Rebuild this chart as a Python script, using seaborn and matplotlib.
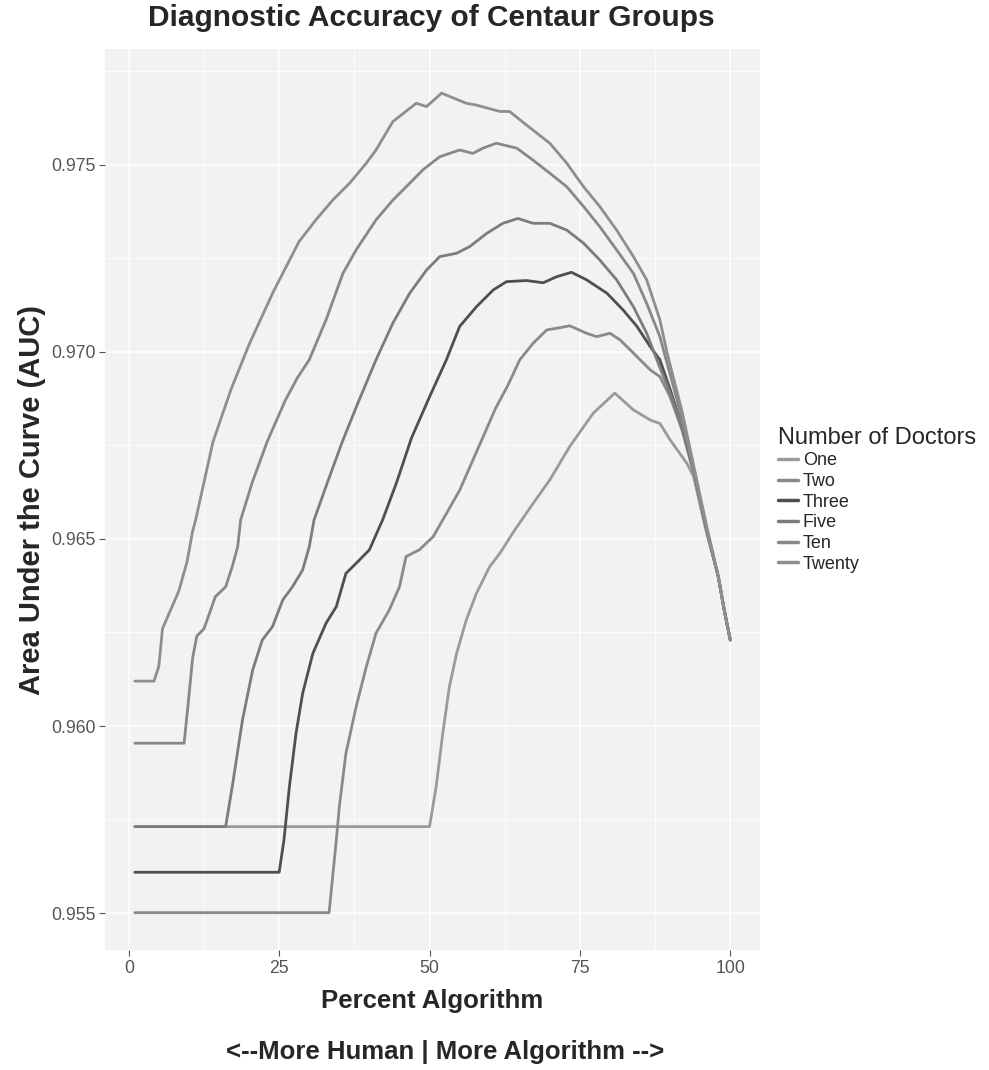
import numpy as np
import pandas as pd
import matplotlib
matplotlib.use("Agg")
import matplotlib.pyplot as plt
import seaborn as sns

# Number of doctors in each centaur group
groups = ["One", "Two", "Three", "Five", "Ten", "Twenty"]

# Percent of weight given to the algorithm, and the resulting AUC, per group
pct_one = [1, 50, 51.1, 52.2, 53.3, 54.5, 56.1, 57.8, 60, 61.7, 64, 67, 70, 73.3,
           77.2, 80.8, 83.9, 86.7, 88.3, 90, 92.8, 93.9, 96, 98, 99, 100]
auc_one = [0.95731, 0.95731, 0.95838, 0.95980, 0.96105, 0.96194, 0.96283, 0.96355,
           0.96426, 0.96462, 0.96520, 0.96590, 0.96658, 0.96747, 0.96836, 0.96890,
           0.96845, 0.96818, 0.96809, 0.96765, 0.96702, 0.96667, 0.96520, 0.96400,
           0.96310, 0.96230]

pct_two = [1, 33.3, 34.5, 35, 36.1, 37.8, 39.5, 41.1, 43.3, 45, 46.1, 48.3, 50.6,
           52.2, 55, 58, 61, 63, 65, 67.2, 69.5, 71.7, 73.3, 76.1, 77.8, 80, 81.7,
           83.9, 86.7, 88.3, 90, 92, 94, 96, 98, 99, 100]
auc_two = [0.95501, 0.95501, 0.95695, 0.95784, 0.95927, 0.96052, 0.96159, 0.96248,
           0.96310, 0.96372, 0.96453, 0.96471, 0.96506, 0.96551, 0.96630, 0.96740,
           0.96850, 0.96910, 0.96979, 0.97023, 0.97059, 0.97065, 0.97070, 0.97050,
           0.97041, 0.97050, 0.97032, 0.96997, 0.96952, 0.96934, 0.96880, 0.96790,
           0.96670, 0.96530, 0.96400, 0.96310, 0.96230]

pct_three = [1, 25, 25.8, 26.7, 27.8, 28.9, 30.6, 32.8, 34.5, 36.1, 37.8, 40, 41.7,
             42.2, 44.5, 47, 50, 52.8, 55, 57.8, 60.6, 62.8, 66.1, 68.9, 71.1, 73.6,
             76.1, 79.5, 82.2, 84.5, 86.7, 88.3, 90, 92, 94, 96, 98, 99, 100]
auc_three = [0.95609, 0.95609, 0.95695, 0.95838, 0.95980, 0.96087, 0.96194, 0.96275,
             0.96319, 0.96408, 0.96435, 0.96471, 0.96533, 0.96551, 0.96650, 0.96770,
             0.96880, 0.96979, 0.97068, 0.97121, 0.97166, 0.97188, 0.97191, 0.97185,
             0.97201, 0.97213, 0.97193, 0.97157, 0.97112, 0.97068, 0.97014, 0.96979,
             0.96900, 0.96800, 0.96680, 0.96530, 0.96400, 0.96310, 0.96230]

pct_five = [1, 16.1, 17.2, 18.9, 20.6, 22.2, 23.9, 25.6, 27.2, 28.9, 30, 30.8, 33,
            35.5, 38, 41.1, 43.9, 46.7, 49.5, 51.7, 54.5, 56.7, 59.5, 62.2, 64.7,
            67.2, 70, 72.8, 75.6, 78.3, 81.1, 83.9, 86.1, 87.8, 90, 92, 94, 96, 98,
            99, 100]
auc_five = [0.95731, 0.95731, 0.95838, 0.96016, 0.96150, 0.96230, 0.96266, 0.96337,
            0.96372, 0.96417, 0.96479, 0.96551, 0.96650, 0.96760, 0.96860, 0.96979,
            0.97077, 0.97157, 0.97219, 0.97255, 0.97264, 0.97282, 0.97317, 0.97344,
            0.97357, 0.97344, 0.97344, 0.97326, 0.97291, 0.97246, 0.97193, 0.97121,
            0.97050, 0.96979, 0.96890, 0.96800, 0.96680, 0.96530, 0.96400, 0.96310,
            0.96230]

pct_ten = [1, 9.2, 10, 10.6, 11.3, 12.5, 14.4, 16.1, 17.2, 18.1, 18.6, 20.5, 23, 26,
           28, 30, 32.8, 35.6, 37.8, 41.1, 43.9, 46.7, 48.9, 51.7, 55, 57.2, 58.9,
           61.1, 64.5, 67.2, 70, 72.8, 75.6, 78.3, 81.1, 83.9, 86.1, 88.3, 90, 92,
           94, 96, 98, 99, 100]
auc_ten = [0.95954, 0.95954, 0.96080, 0.96180, 0.96240, 0.96260, 0.96346, 0.96372,
           0.96426, 0.96479, 0.96551, 0.96650, 0.96760, 0.96870, 0.96930, 0.96979,
           0.97086, 0.97210, 0.97273, 0.97353, 0.97406, 0.97451, 0.97487, 0.97522,
           0.97540, 0.97531, 0.97545, 0.97558, 0.97545, 0.97513, 0.97478, 0.97442,
           0.97389, 0.97335, 0.97273, 0.97210, 0.97130, 0.97041, 0.96940, 0.96820,
           0.96680, 0.96530, 0.96400, 0.96310, 0.96230]

pct_twenty = [1, 4.2, 5, 5.6, 6.4, 8.3, 9.7, 10.6, 11.1, 14, 17, 20, 24, 28.3, 31.1,
              33.9, 36.7, 39.5, 41.1, 43.9, 47.8, 49.5, 52, 56.1, 57.8, 61.7, 63.3,
              66.1, 70, 72.8, 75.6, 78.3, 81.1, 83.9, 86.1, 88.3, 89.5, 92, 94, 96,
              98, 99, 100]
auc_twenty = [0.96120, 0.96120, 0.96160, 0.96260, 0.96290, 0.96360, 0.96440, 0.96520,
              0.96550, 0.96760, 0.96900, 0.97020, 0.97160, 0.97295, 0.97353, 0.97406,
              0.97451, 0.97505, 0.97540, 0.97616, 0.97665, 0.97656, 0.97692, 0.97665,
              0.97660, 0.97643, 0.97643, 0.97607, 0.97558, 0.97505, 0.97442, 0.97389,
              0.97326, 0.97255, 0.97193, 0.97086, 0.96997, 0.96840, 0.96690, 0.96540,
              0.96400, 0.96310, 0.96230]

x_ticks = [0, 25, 50, 75, 100]
y_ticks = [0.955, 0.960, 0.965, 0.970, 0.975]

series = {
    "One": (pct_one, auc_one),
    "Two": (pct_two, auc_two),
    "Three": (pct_three, auc_three),
    "Five": (pct_five, auc_five),
    "Ten": (pct_ten, auc_ten),
    "Twenty": (pct_twenty, auc_twenty),
}
df = pd.concat(
    [pd.DataFrame({"Percent Algorithm": xs, "AUC": ys, "Number of Doctors": name})
     for name, (xs, ys) in series.items()],
    ignore_index=True,
)

palette = {
    "One": "#9a9a9a",
    "Two": "#8a8a8a",
    "Three": "#4f4f4f",
    "Five": "#7c7c7c",
    "Ten": "#888888",
    "Twenty": "#8e8e8e",
}

sns.set_theme(style="darkgrid")
plt.rcParams["font.family"] = ["Liberation Sans", "DejaVu Sans"]

fig = plt.figure(figsize=(9.89, 10.7), dpi=100)
fig.patch.set_facecolor("white")
ax = fig.add_axes([0.1062, 0.1121, 0.6623, 0.8421])
ax.set_facecolor("#f2f2f2")

sns.lineplot(
    data=df, x="Percent Algorithm", y="AUC", hue="Number of Doctors",
    hue_order=groups, palette=palette, linewidth=2.0, estimator=None,
    ax=ax,
)

ax.set_xlim(-3.95, 104.95)
ax.set_ylim(0.95401, 0.97810)
ax.set_xticks(x_ticks)
ax.set_xticklabels([str(t) for t in x_ticks])
ax.set_yticks(y_ticks)
ax.set_yticklabels([f"{t:.3f}" for t in y_ticks])
ax.set_xticks([12.5, 37.5, 62.5, 87.5], minor=True)
ax.set_yticks([0.9575, 0.9625, 0.9675, 0.9725, 0.9775], minor=True)

ax.grid(which="major", color="white", linewidth=1.1)
ax.grid(which="minor", color="white", linewidth=0.5)
ax.set_axisbelow(True)
for s in ax.spines.values():
    s.set_visible(False)

ax.tick_params(axis="both", which="major", length=4, width=0.8, color="#555555",
               labelsize=12.7, labelcolor="#555555", pad=3, bottom=True, left=True)
ax.tick_params(axis="both", which="minor", length=0)
ax.set_xlabel("")
ax.set_ylabel("")

fig.text(0.436, 0.983, "Diagnostic Accuracy of Centaur Groups",
         fontsize=21.5, fontweight="bold", ha="center", va="center")
fig.text(0.437, 0.0645, "Percent Algorithm",
         fontsize=18.5, fontweight="bold", ha="center", va="center")
fig.text(0.45, 0.0168, "<--More Human | More Algorithm -->",
         fontsize=18.5, fontweight="bold", ha="center", va="center")
fig.text(0.0324, 0.5327, "Area Under the Curve (AUC)", rotation=90,
         fontsize=21, fontweight="bold", ha="center", va="center")

handles, labels = ax.get_legend_handles_labels()
if ax.legend_ is not None:
    ax.legend_.remove()
for h in handles:
    h.set_linewidth(2.5)
leg = ax.legend(
    handles, labels, title="Number of Doctors", loc="center left",
    bbox_to_anchor=(0.787, 0.533), bbox_transform=fig.transFigure,
    frameon=False, fontsize=13, title_fontsize=17, handlelength=1.1,
    handletextpad=0.25, labelspacing=0.2, borderpad=0, borderaxespad=0,
    alignment="left",
)

fig.savefig("out.png", dpi=100)
